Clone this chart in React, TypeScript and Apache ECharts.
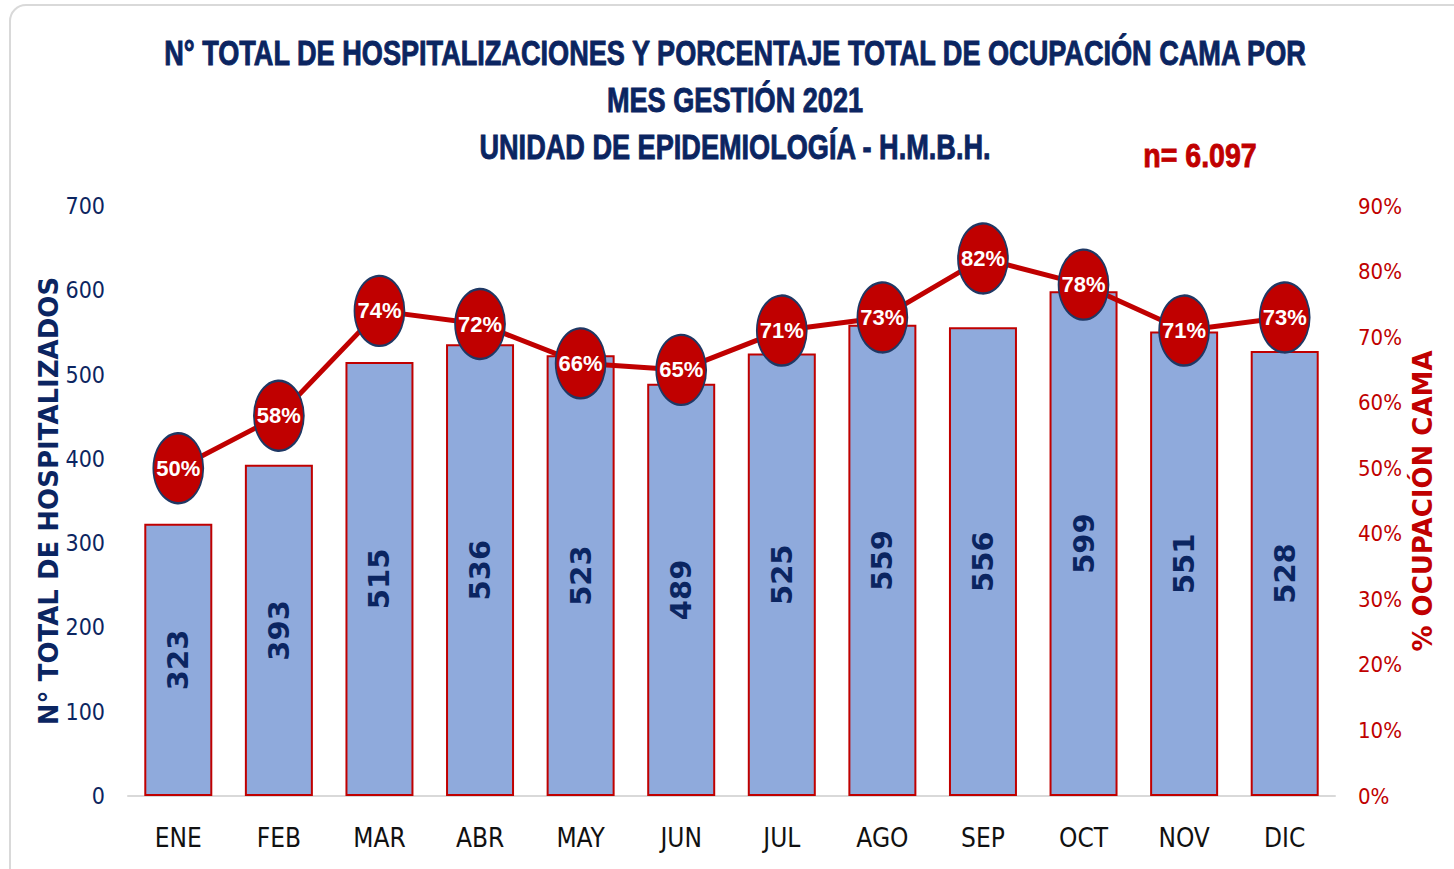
import React, { useEffect, useRef } from "react";
import * as echarts from "echarts";

const months = ["ENE", "FEB", "MAR", "ABR", "MAY", "JUN", "JUL", "AGO", "SEP", "OCT", "NOV", "DIC"];
const hospitalizados = [323, 393, 515, 536, 523, 489, 525, 559, 556, 599, 551, 528];
const ocupacion = [50, 58, 74, 72, 66, 65, 71, 73, 82, 78, 71, 73];
const titleLines = [
  "N° TOTAL DE HOSPITALIZACIONES Y PORCENTAJE TOTAL DE OCUPACIÓN CAMA POR",
  "MES GESTIÓN 2021",
  "UNIDAD DE EPIDEMIOLOGÍA - H.M.B.H.",
];
const nText = "n= 6.097";
const leftName = "N° TOTAL DE HOSPITALIZADOS";
const rightName = "% OCUPACIÓN CAMA";

const NAVY = "#0B2561";
const RED = "#C00000";
const ARIAL = "'Liberation Sans', Arial, sans-serif";
const COND = "'DejaVu Sans Condensed', 'Open Sans', sans-serif";

export default function App() {
  const ref = useRef<HTMLDivElement>(null);
  useEffect(() => {
    document.body.style.margin = "0";
    const chart = echarts.init(ref.current!, undefined, { renderer: "svg" });
    chart.setOption({
      animation: false,
      backgroundColor: "#ffffff",
      graphic: [
        {
          type: "rect",
          shape: { x: 10, y: 5, width: 1460, height: 880, r: 16 },
          style: { fill: "none", stroke: "#d9d9d9", lineWidth: 2 },
          z: -10,
        },
        ...titleLines.map((t, i) => ({
          type: "text",
          x: 735,
          y: 53 + i * 47,
          scaleX: 0.775,
          style: {
            text: t,
            fill: NAVY,
            stroke: NAVY,
            lineWidth: 0.9,
            font: `bold 35px ${ARIAL}`,
            textAlign: "center",
            textVerticalAlign: "middle",
          },
        })),
        {
          type: "text",
          x: 1200,
          y: 156,
          scaleX: 0.84,
          style: {
            text: nText,
            fill: RED,
            stroke: RED,
            lineWidth: 0.9,
            font: `bold 34px ${ARIAL}`,
            textAlign: "center",
            textVerticalAlign: "middle",
          },
        },
      ],
      grid: { left: 128, right: 119, top: 206, bottom: 73, containLabel: false },
      xAxis: {
        type: "category",
        data: months,
        axisLine: { lineStyle: { color: "#d9d9d9", width: 2 } },
        axisTick: { show: false },
        axisLabel: { color: "#111", fontSize: 26, fontFamily: COND, margin: 29 },
      },
      yAxis: [
        {
          type: "value",
          min: 0,
          max: 700,
          interval: 100,
          splitLine: { show: false },
          axisLine: { show: false },
          axisTick: { show: false },
          axisLabel: { color: NAVY, fontSize: 23, fontFamily: COND, margin: 23 },
          name: leftName,
          nameLocation: "middle",
          nameGap: 66,
          nameMoveOverlap: false,
          nameTextStyle: { color: NAVY, fontSize: 26, fontWeight: "bold", fontFamily: "'DejaVu Sans', Verdana, sans-serif" },
        },
        {
          type: "value",
          min: 0,
          max: 90,
          interval: 10,
          splitLine: { show: false },
          axisLine: { show: false },
          axisTick: { show: false },
          axisLabel: { color: RED, fontSize: 22, fontFamily: COND, margin: 23, formatter: "{value}%" },
          name: rightName,
          nameLocation: "middle",
          nameGap: 75,
          nameRotate: 90,
          nameMoveOverlap: false,
          nameTextStyle: { color: RED, fontSize: 26, fontWeight: "bold", fontFamily: "'DejaVu Sans', Verdana, sans-serif" },
        },
      ],
      series: [
        {
          type: "bar",
          data: hospitalizados,
          barWidth: 68,
          yAxisIndex: 0,
          itemStyle: { color: "#8FAADC", borderColor: RED, borderWidth: 2 },
          label: {
            show: true,
            position: "inside",
            rotate: 90,
            color: NAVY,
            fontSize: 29,
            fontWeight: "bold",
            fontFamily: "'DejaVu Sans', Verdana, sans-serif",
          },
          z: 2,
        },
        {
          type: "line",
          data: ocupacion,
          yAxisIndex: 1,
          symbol: "circle",
          symbolSize: [50, 70],
          lineStyle: { color: RED, width: 5 },
          itemStyle: { color: RED, borderColor: "#1F3864", borderWidth: 2 },
          label: {
            show: true,
            position: "inside",
            formatter: "{c}%",
            color: "#ffffff",
            fontSize: 22,
            fontWeight: "bold",
            fontFamily: ARIAL,
          },
          z: 5,
        },
      ],
    });
    return () => chart.dispose();
  }, []);
  return <div ref={ref} style={{ width: 1454, height: 869 }} />;
}
